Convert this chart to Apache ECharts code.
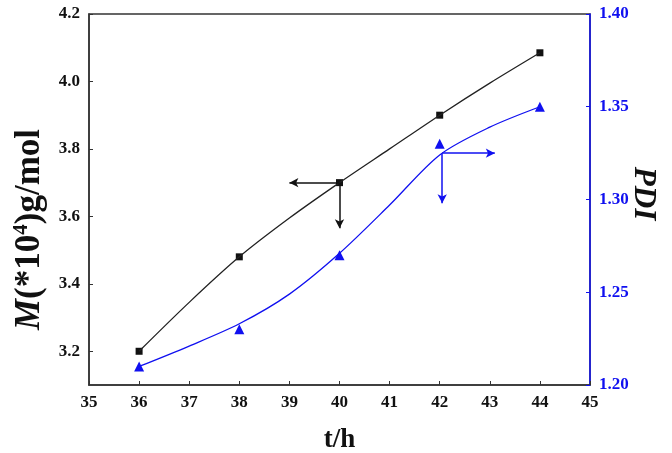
<!DOCTYPE html>
<html><head><meta charset="utf-8">
<script src="https://cdn.jsdelivr.net/npm/echarts@6/dist/echarts.min.js"></script>
<style>html,body{margin:0;padding:0;background:#fff}#c{width:672px;height:453px}</style>
</head><body><div id="c"></div>
<script>
// Data
const timeH = [36, 38, 40, 42, 44];
const molWeight = [3.20, 3.48, 3.70, 3.90, 4.085];
const pdi = [1.21, 1.23, 1.27, 1.33, 1.35];
// fitted curves
const fitX = [36, 37, 38, 39, 40, 41, 42, 43, 44];
const molFitY = [3.20, 3.345, 3.48, 3.595, 3.70, 3.80, 3.90, 3.995, 4.085];
const pdiFitY = [1.21, 1.221, 1.233, 1.249, 1.271, 1.297, 1.324, 1.339, 1.35];
const xTicks = [35, 45, 1];
const leftTicks = [3.2, 3.4, 3.6, 3.8, 4.0, 4.2];
// annotation arrows [from, to] in data coordinates
const mArrows = [[[40, 3.70], [39.0, 3.70]], [[40, 3.70], [40, 3.565]]];
const pdiArrows = [[[42.05, 1.325], [43.1, 1.325]], [[42.05, 1.325], [42.05, 1.298]]];

const BLUE = '#1010f0';
const FONT = 'Liberation Serif';
const chart = echarts.init(document.getElementById('c'));
const zip = (a, b) => a.map((v, i) => [v, b[i]]);
const arrowLines = (arr) => arr.map(p => [{coord: p[0]}, {coord: p[1]}]);

chart.setOption({
  animation: false,
  backgroundColor: '#fff',
  grid: {left: 89, right: 82, top: 14, bottom: 68, show: true, borderColor: '#333', borderWidth: 1.5,
    containLabel: false, outerBoundsMode: 'none'},
  xAxis: {
    type: 'value', min: xTicks[0], max: xTicks[1], interval: xTicks[2],
    name: 't/h', nameLocation: 'middle', nameGap: 42,
    nameTextStyle: {fontFamily: FONT, fontWeight: 'bold', fontSize: 27, color: '#111'},
    axisLine: {lineStyle: {color: '#333', width: 1.5}},
    axisTick: {inside: true, length: 4, lineStyle: {color: '#333'}},
    axisLabel: {fontFamily: FONT, fontWeight: 'bold', fontSize: 17, color: '#111', margin: 9},
    splitLine: {show: false}
  },
  yAxis: [{
    type: 'value', min: 3.1, max: 4.2, position: 'left',
    name: '{i|M}{n|(*10}{s|4}{n|)g/mol}', nameLocation: 'middle', nameGap: 41, nameMoveOverlap: false,
    nameTextStyle: {padding: [0, 60, 0, 0], rich: {
      i: {fontFamily: FONT, fontWeight: 'bold', fontStyle: 'italic', fontSize: 35, color: '#111'},
      n: {fontFamily: FONT, fontWeight: 'bold', fontSize: 35, color: '#111'},
      s: {fontFamily: FONT, fontWeight: 'bold', fontSize: 21, color: '#111', verticalAlign: 'top', padding: [0,0,16,0]}
    }},
    axisLine: {show: true, lineStyle: {color: '#333', width: 1.5}},
    axisTick: {show: true, inside: true, length: 4, customValues: leftTicks, lineStyle: {color: '#333'}},
    axisLabel: {fontFamily: FONT, fontWeight: 'bold', fontSize: 17, color: '#111', margin: 9,
      customValues: leftTicks, formatter: v => v.toFixed(1)},
    splitLine: {show: false}
  }, {
    type: 'value', min: 1.2, max: 1.4, interval: 0.05, position: 'right',
    name: 'PDI', nameLocation: 'middle', nameGap: 38, nameRotate: -90, nameMoveOverlap: false,
    nameTextStyle: {fontFamily: FONT, fontWeight: 'bold', fontStyle: 'italic', fontSize: 31, color: '#111', padding: [0, 12, 0, 0]},
    axisLine: {show: true, lineStyle: {color: BLUE, width: 1.5}},
    axisTick: {show: true, inside: true, length: 4, lineStyle: {color: BLUE}},
    axisLabel: {fontFamily: FONT, fontWeight: 'bold', fontSize: 17, color: BLUE, margin: 9,
      formatter: v => v.toFixed(2)},
    splitLine: {show: false}
  }],
  series: [{
    type: 'line', yAxisIndex: 0, data: zip(fitX, molFitY), smooth: 0.3,
    symbol: 'none', showSymbol: false,
    lineStyle: {color: '#222', width: 1.3},
    markLine: {silent: true, symbol: ['none', 'arrow'], symbolSize: [7, 9],
      label: {show: false}, lineStyle: {color: '#111', width: 1.5, type: 'solid'},
      data: arrowLines(mArrows)}
  }, {
    type: 'scatter', yAxisIndex: 0, data: zip(timeH, molWeight),
    symbol: 'rect', symbolSize: 7, itemStyle: {color: '#111', opacity: 1}
  }, {
    type: 'line', yAxisIndex: 1, data: zip(fitX, pdiFitY), smooth: 0.3,
    showSymbol: false, symbol: 'none', lineStyle: {color: BLUE, width: 1.3},
    markLine: {silent: true, symbol: ['none', 'arrow'], symbolSize: [7, 9],
      label: {show: false}, lineStyle: {color: BLUE, width: 1.5, type: 'solid'},
      data: arrowLines(pdiArrows)}
  }, {
    type: 'scatter', yAxisIndex: 1, data: zip(timeH, pdi),
    symbol: 'triangle', symbolSize: 10, itemStyle: {color: BLUE, opacity: 1}
  }]
});
</script></body></html>
